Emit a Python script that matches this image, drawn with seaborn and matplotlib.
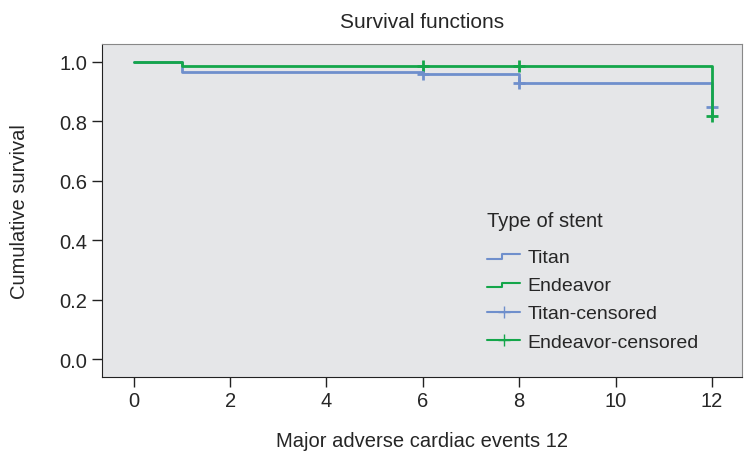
import matplotlib
matplotlib.use('Agg')
import matplotlib.pyplot as plt
import seaborn as sns
import pandas as pd
from matplotlib.lines import Line2D

# survival steps
titan_t = [0, 1, 6, 8, 12]
titan_s = [1.0, 0.965, 0.957, 0.927, 0.849]
endeavor_t = [0, 1, 12]
endeavor_s = [1.0, 0.984, 0.818]

# censored observations
titan_cens_t = [6, 8, 12]
titan_cens_s = [0.957, 0.927, 0.849]
endeavor_cens_t = [6, 8, 12]
endeavor_cens_s = [0.984, 0.984, 0.818]

blue = '#6f8fcc'
green = '#14a64a'

sns.set_style('white')
plt.rcParams['font.family'] = ['Liberation Sans Narrow', 'Liberation Sans', 'DejaVu Sans']
fs = 14.5

df_t = pd.DataFrame({'t': titan_t, 's': titan_s})
df_e = pd.DataFrame({'t': endeavor_t, 's': endeavor_s})

fig = plt.figure(figsize=(7.44, 4.52), dpi=100)
ax = fig.add_axes([0.137, 0.164, 0.86, 0.737])
ax.set_facecolor('#e5e6e8')

sns.lineplot(data=df_t, x='t', y='s', drawstyle='steps-post', color=blue, lw=2, ax=ax)
sns.lineplot(data=df_e, x='t', y='s', drawstyle='steps-post', color=green, lw=2, ax=ax)
sns.scatterplot(x=titan_cens_t, y=titan_cens_s, marker='+', s=75, color=blue, linewidth=2, ax=ax)
sns.scatterplot(x=endeavor_cens_t, y=endeavor_cens_s, marker='+', s=75, color=green, linewidth=2, ax=ax)

ax.set_xlim(-0.66, 12.62)
ax.set_ylim(-0.06, 1.06)
ax.set_xticks(range(0, 13, 2))
ax.set_yticks([0.0, 0.2, 0.4, 0.6, 0.8, 1.0])
ax.set_yticklabels(['0.0', '0.2', '0.4', '0.6', '0.8', '1.0'])
ax.tick_params(direction='out', length=7, width=1, color='#222222', labelsize=fs,
               bottom=True, left=True)
for side in ['left', 'bottom']:
    ax.spines[side].set_color('#222222')
for side in ['top', 'right']:
    ax.spines[side].set_color('#888888')

ax.set_title('Survival functions', fontsize=fs + 0.5, pad=12)
ax.set_xlabel('Major adverse cardiac events 12', fontsize=fs, labelpad=15)
ax.set_ylabel('Cumulative survival', fontsize=fs, labelpad=22)


class StepHandler:
    def __init__(self, color):
        self.color = color

    def legend_artist(self, legend, orig_handle, fontsize, handlebox):
        x0, y0 = handlebox.xdescent, handlebox.ydescent
        w, h = handlebox.width, handlebox.height
        xs = [x0, x0 + w * 0.45, x0 + w * 0.45, x0 + w]
        ys = [y0 + h * 0.2, y0 + h * 0.2, y0 + h * 0.55, y0 + h * 0.55]
        line = Line2D(xs, ys, color=self.color, lw=1.5)
        handlebox.add_artist(line)
        return line


h_titan = Line2D([], [], color=blue)
h_end = Line2D([], [], color=green)
h_tc = Line2D([], [], color=blue, marker='+', markersize=9, lw=1.5)
h_ec = Line2D([], [], color=green, marker='+', markersize=9, lw=1.5)

leg = ax.legend([h_titan, h_end, h_tc, h_ec],
                ['Titan', 'Endeavor', 'Titan-censored', 'Endeavor-censored'],
                handler_map={h_titan: StepHandler(blue), h_end: StepHandler(green)},
                title='Type of stent', loc='upper left', bbox_to_anchor=(0.575, 0.55),
                frameon=False, fontsize=14, title_fontsize=fs, handlelength=1.7,
                handletextpad=0.35, labelspacing=0.55)
leg._legend_box.align = 'left'
leg._legend_box.sep = 13

fig.savefig('out.png', dpi=100)
